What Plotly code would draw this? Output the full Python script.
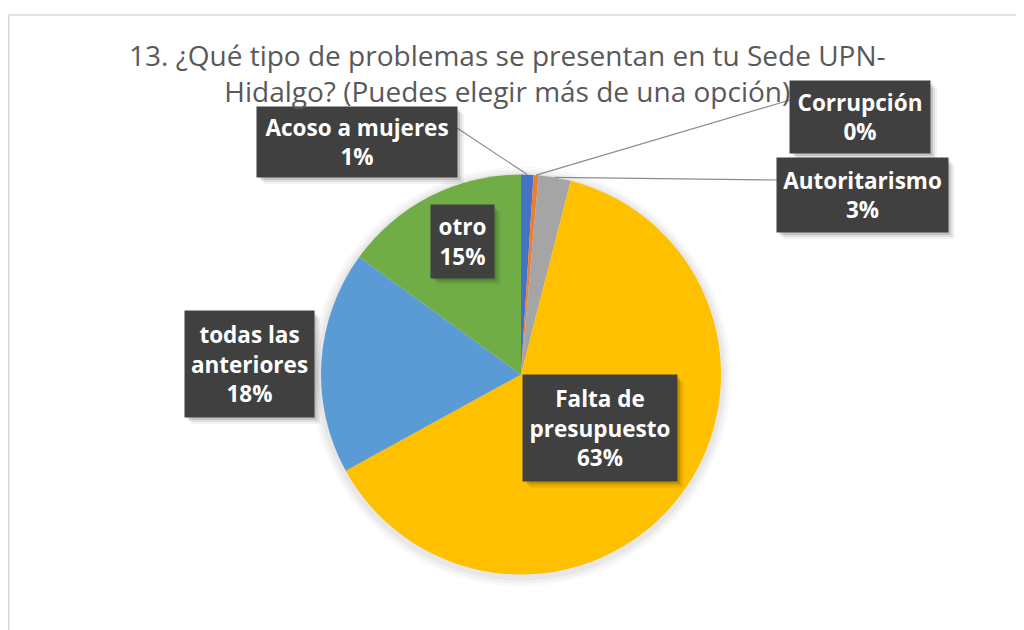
import math
import plotly.graph_objects as go

# ---- data ----
categories = ["Acoso a mujeres", "Corrupción", "Autoritarismo",
              "Falta de presupuesto", "todas las anteriores", "otro"]
values = [1.0, 0.4, 2.6, 63.0, 18.0, 15.0]
label_text = ["Acoso a mujeres<br>1%", "Corrupción<br>0%", "Autoritarismo<br>3%",
              "Falta de<br>presupuesto<br>63%", "todas las<br>anteriores<br>18%", "otro<br>15%"]
colors = ["#4472C4", "#ED7D31", "#A5A5A5", "#FFC000", "#5B9BD5", "#70AD47"]
title = "13. ¿Qué tipo de problemas se presentan en tu Sede UPN-<br>Hidalgo? (Puedes elegir más de una opción)"

W, H = 1024, 630
OFF = 8  # page body margin
# pie geometry in screen pixels
PX0, PX1 = 321, 721
PY0, PY1 = 174, 575
cx, cy = (PX0 + PX1) / 2, (PY0 + PY1) / 2
R = min(PX1 - PX0, PY1 - PY0) / 2

def px(x):
    return (x - OFF) / W

def py(y):
    return 1 - (y - OFF) / H

fig = go.Figure()
fig.add_trace(go.Pie(
    labels=categories, values=values, sort=False, direction="clockwise", rotation=0,
    marker=dict(colors=colors, line=dict(width=0)),
    textinfo="none", hoverinfo="label+percent", showlegend=False,
    domain=dict(x=[px(PX0), px(PX1)], y=[py(PY1), py(PY0)]),
))

# label boxes: center (px), size (px)
boxes = [
    (357, 142, 200, 70),
    (860, 117, 140, 72),
    (862, 195, 171, 74),
    (600, 428, 154, 106),
    (249, 364, 129, 106),
    (462, 241, 63, 73),
]
# leader line label-side anchor (only first three)
anchors = {0: (457, 128), 1: (790, 100), 2: (777, 180)}

shapes = []
# soft pie shadow
for k, a in [(10, 0.025), (7, 0.03), (4, 0.04)]:
    shapes.append(dict(type="circle", xref="paper", yref="paper",
                       x0=px(cx - R - k), x1=px(cx + R + k),
                       y0=py(cy + R + k + 2), y1=py(cy - R - k + 2),
                       fillcolor=f"rgba(0,0,0,{a})", line=dict(width=0), layer="below"))

total = sum(values)
cum = 0.0
for i, v in enumerate(values):
    mid = (cum + v / 2) / total
    cum += v
    th = 2 * math.pi * mid
    ex, ey = cx + R * math.sin(th), cy - R * math.cos(th)
    if i in anchors:
        ax_, ay_ = anchors[i]
        shapes.append(dict(type="line", xref="paper", yref="paper",
                           x0=px(ax_), y0=py(ay_), x1=px(ex), y1=py(ey),
                           line=dict(color="#8c8c8c", width=1.2), layer="above"))

# shadows for boxes
for (bx, by, bw, bh) in boxes:
    for k, a in [(7, 0.05), (5, 0.08), (3, 0.12)]:
        shapes.append(dict(type="rect", xref="paper", yref="paper",
                           x0=px(bx - bw / 2 + k), x1=px(bx + bw / 2 + k),
                           y0=py(by - bh / 2 + k), y1=py(by + bh / 2 + k),
                           fillcolor=f"rgba(0,0,0,{a})", line=dict(width=0), layer="above"))

# outer chart border
shapes.append(dict(type="rect", xref="paper", yref="paper",
                   x0=px(8.8), x1=1.05, y0=-0.05, y1=py(15),
                   line=dict(color="#D9D9D9", width=1.5), fillcolor="rgba(0,0,0,0)", layer="below"))

annotations = []
for (bx, by, bw, bh), t in zip(boxes, label_text):
    annotations.append(dict(
        x=px(bx), y=py(by), xref="paper", yref="paper", xanchor="center", yanchor="middle",
        text="<b>" + t + "</b>", showarrow=False, align="center",
        font=dict(family="Open Sans", size=22.5, color="white"),
        bgcolor="#404040", borderpad=0, width=bw, height=bh,
    ))

annotations.append(dict(
    x=px(507), y=py(34), xref="paper", yref="paper", xanchor="center", yanchor="top",
    text=title, showarrow=False, align="center",
    font=dict(family="Open Sans", size=28, color="#595959"),
))

fig.update_layout(
    width=W, height=H, margin=dict(l=0, r=0, t=0, b=0),
    paper_bgcolor="white", plot_bgcolor="white",
    shapes=shapes, annotations=annotations,
)

fig.write_html("out.html")
